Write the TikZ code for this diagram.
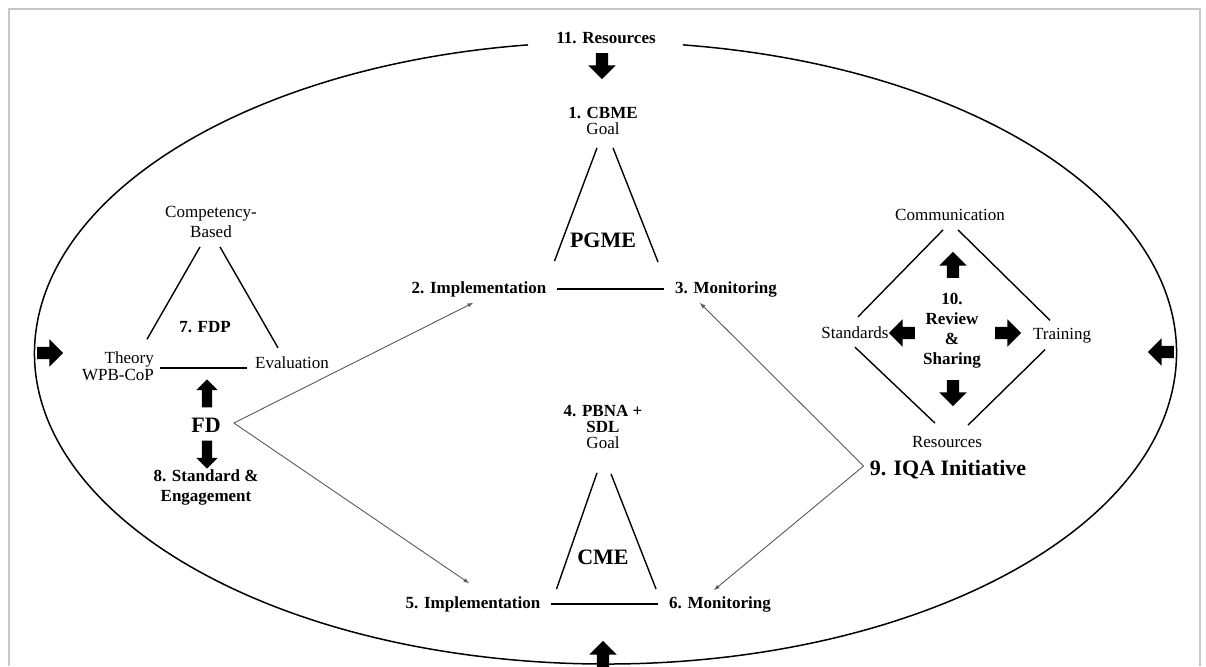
\documentclass[tikz,border=0pt]{standalone}
\usepackage{fontspec}
\setmainfont{Liberation Serif}
\usepackage{tikz}
\usetikzlibrary{calc}
\usetikzlibrary{shapes.arrows}
\tikzset{
	labelstyle/.style={inner sep=1pt,align=center,font=\fontsize{17}{20}\selectfont},
	boldstyle/.style={inner sep=1pt,align=center,font=\fontsize{17}{20}\selectfont\bfseries},
	titlestyle/.style={inner sep=1pt,align=center,font=\fontsize{22}{24}\selectfont\bfseries},
	sidestyle/.style={line width=1.4pt},
	linkstyle/.style={draw=black!65,line width=0.9pt,-latex},
	blockstyle/.style={single arrow,fill=black,inner xsep=0pt,inner ysep=6pt,minimum height=26pt,single arrow head extend=7.5pt}
}

\begin{document}
\begin{tikzpicture}[x=1pt,y=-1pt]
	\useasboundingbox (0,0) rectangle (1206,666);
	\draw[black!22,line width=1.5pt] (9,666)--(9,9)--(1200,9)--(1200,666);
	% outer loop with resources on top
	\coordinate (ctr) at (605.5,353);
	\draw[line width=1.5pt] (ctr) ++(277.8:571 and 311) arc[start angle=277.8,end angle=622.2,x radius=571,y radius=311];
	\node[boldstyle] (res) at (606,38) {11. Resources};
	\node[blockstyle,rotate=-90] (resarrow) at (602,63) {};
	\node[blockstyle] (leftarrow) at (47,353) {};
	\node[blockstyle,rotate=180] (rightarrow) at (1164,352) {};
	\node[blockstyle,rotate=90] (botarrow) at (603,657) {};
	% PGME
	\node[labelstyle,font=\fontsize{17}{16}\selectfont] (cbme) at (603,121) {\textbf{1. CBME}\\Goal};
	\node[titlestyle] (pgme) at (603,240) {PGME};
	\node[boldstyle] (impl2) at (479,289) {2. Implementation};
	\node[boldstyle] (mon3) at (726,289) {3. Monitoring};
	\draw[sidestyle] ([shift={(-6,12)}]cbme.south)--([shift={(7,-19)}]impl2.north east);
	\draw[sidestyle] ([shift={(10,12)}]cbme.south)--([shift={(-16,-18)}]mon3.north west);
	\draw[sidestyle,shorten <=10pt,shorten >=10pt] (impl2)--(mon3);
	% CME
	\node[labelstyle,font=\fontsize{17}{16}\selectfont] (pbna) at (603,427) {\textbf{4. PBNA +}\\\textbf{SDL}\\Goal};
	\node[titlestyle] (cme) at (603,557) {CME};
	\node[boldstyle] (impl5) at (473,604) {5. Implementation};
	\node[boldstyle] (mon6) at (720,604) {6. Monitoring};
	\draw[sidestyle] ([shift={(-6,23)}]pbna.south)--([shift={(15,-6)}]impl5.north east);
	\draw[sidestyle] ([shift={(8,24)}]pbna.south)--([shift={(-12,-6)}]mon6.north west);
	\draw[sidestyle,shorten <=10pt,shorten >=10pt] (impl5)--(mon6);
	% FDP
	\node[labelstyle] (comp) at (211,222) {Competency-\\Based};
	\node[boldstyle] (fdp) at (205,327) {7. FDP};
	\node[labelstyle,align=right,anchor=east,font=\fontsize{17}{17}\selectfont] (theory) at (155,366) {Theory\\WPB-CoP};
	\node[labelstyle] (eval) at (292,363) {Evaluation};
	\draw[sidestyle] ([shift={(-11,8)}]comp.south)--([shift={(-8,-11)}]theory.north east);
	\draw[sidestyle] ([shift={(9,8)}]comp.south)--([shift={(24,-8)}]eval.north west);
	\draw[sidestyle] ([shift={(5,2)}]theory.east)--([shift={(-7,5)}]eval.west);
	\node[blockstyle,rotate=90,minimum height=28pt,inner ysep=5pt,single arrow head extend=5.5pt] (fdup) at (207,396) {};
	\node[titlestyle] (fd) at (206,425) {FD};
	\node[blockstyle,rotate=-90,minimum height=28pt,inner ysep=5pt,single arrow head extend=5.5pt] (fddown) at (207,452) {};
	\node[boldstyle] (std8) at (206,487) {8. Standard \&\\Engagement};
	\coordinate (fdv) at ([shift={(12,-2)}]fd.east);
	\draw[linkstyle] (fdv)--([shift={(-6,5)}]impl2.south);
	\draw[linkstyle] (fdv)--([shift={(-4,-12)}]impl5.north);
	% IQA
	\node[labelstyle] (comm) at (950,215) {Communication};
	\node[labelstyle] (stds) at (855,333) {Standards};
	\node[labelstyle] (train) at (1062,336) {Training};
	\node[labelstyle] (resq) at (947,442) {Resources};
	\node[boldstyle] (rev) at (952,331) {10.\\Review\\\&\\Sharing};
	\node[blockstyle,rotate=90] (revup) at (953,268) {};
	\node[blockstyle,rotate=-90] (revdown) at (953,390) {};
	\node[blockstyle,rotate=180] (revleft) at (905,333) {};
	\node[blockstyle] (revright) at (1005,333) {};
	\node[titlestyle] (iqa) at (948,470) {9. IQA Initiative};
	\draw[sidestyle] ([shift={(-7,8)}]comm.south)--([shift={(3,-9)}]stds.north);
	\draw[sidestyle] ([shift={(8,8)}]comm.south)--([shift={(-12,-7)}]train.north);
	\draw[sidestyle] ([shift={(0,7)}]stds.south)--([shift={(-12,-12)}]resq.north);
	\draw[sidestyle] ([shift={(-17,5)}]train.south)--([shift={(21,-10)}]resq.north);
	\coordinate (iqav) at ([shift={(-5,-4)}]iqa.west);
	\draw[linkstyle] (iqav)--([shift={(-26,5)}]mon3.south);
	\draw[linkstyle] (iqav)--([shift={(-6,-5)}]mon6.north);
\end{tikzpicture}
\end{document}
